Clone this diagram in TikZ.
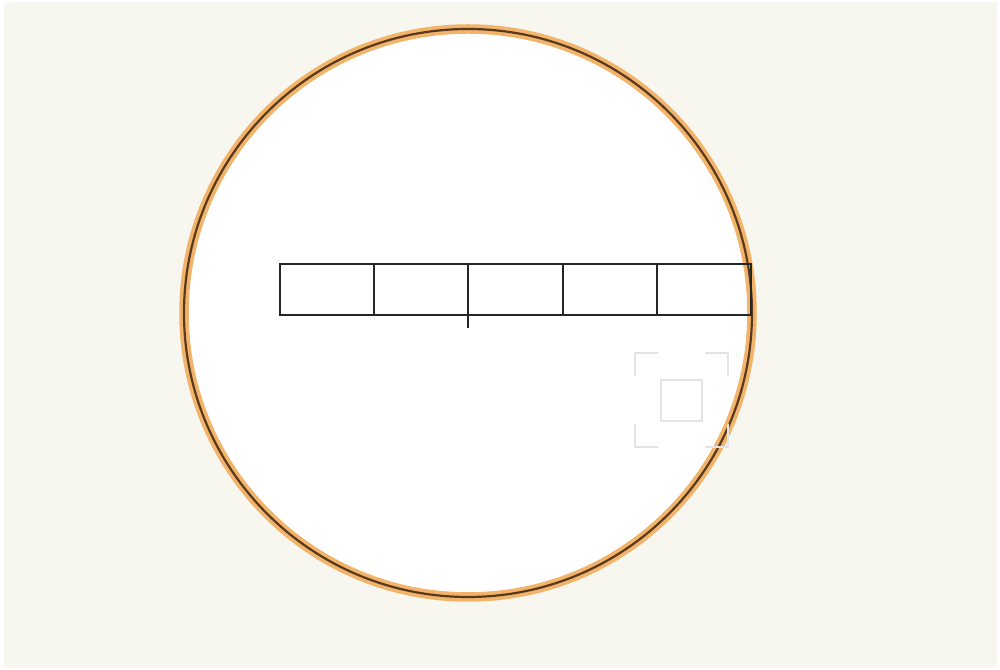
\documentclass[tikz,border=0pt]{standalone}
\usepackage{tikz}
\definecolor{bgcream}{HTML}{F7F6EF}
\definecolor{ringorange}{HTML}{F2B46A}
\definecolor{ringdark}{HTML}{5A3A1E}
\definecolor{ghost}{HTML}{E4E4E4}
\tikzset{
  cell/.style={draw=black!85, line width=0.2mm, minimum width=9.42mm, minimum height=5.1mm, inner sep=0pt, outer sep=0pt},
  ring/.style={circle, minimum size=56.8mm, inner sep=0pt, draw=ringdark, line width=0.22mm,
    preaction={fill=white}, preaction={draw=ringorange, line width=0.95mm}},
  ghostline/.style={draw=ghost, line width=0.15mm},
}
\begin{document}
\begin{tikzpicture}[x=0.1mm,y=-0.1mm]
\useasboundingbox (0,0) rectangle (1000,670);
\fill[white] (0,0) rectangle (1000,670);
\fill[bgcream] (4,2) rectangle (997,668);
\node[ring] (c) at (468,313) {};
\node[cell] (b1) at (327.1,289.5) {};
\node[cell] (b2) at (421.3,289.5) {};
\node[cell] (b3) at (515.5,289.5) {};
\node[cell] (b4) at (609.7,289.5) {};
\node[cell] (b5) at (703.9,289.5) {};
\coordinate (t) at ([yshift=-1.3mm]b2.south east);
\draw[draw=black!85, line width=0.2mm] (b2.south east) -- (t);
% ghost marker
\node[ghostline, minimum size=4.1mm, inner sep=0pt] (g) at (681.5,400.5) {};
\coordinate (g1) at (635,353);
\coordinate (g2) at (728,353);
\coordinate (g3) at (635,447);
\coordinate (g4) at (728,447);
\draw[ghostline] ([yshift=-2.3mm]g1) -- (g1) -- ([xshift=2.3mm]g1);
\draw[ghostline] ([xshift=-2.3mm]g2) -- (g2) -- ([yshift=-2.3mm]g2);
\draw[ghostline] ([yshift=2.3mm]g3) -- (g3) -- ([xshift=2.3mm]g3);
\draw[ghostline] ([xshift=-2.3mm]g4) -- (g4) -- ([yshift=2.3mm]g4);
\end{tikzpicture}
\end{document}
